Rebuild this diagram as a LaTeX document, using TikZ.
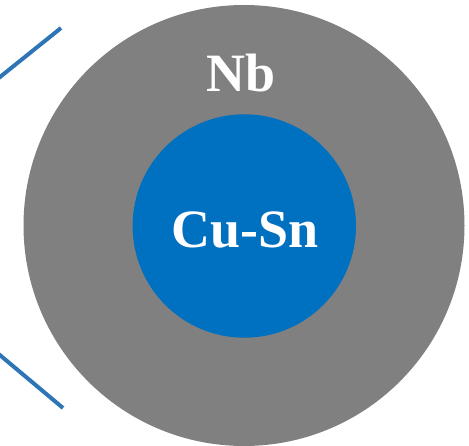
\documentclass[tikz,border=0pt]{standalone}
\usepackage{fontspec}
\setmainfont{Liberation Serif}
\definecolor{nbgray}{HTML}{808080}
\definecolor{cublue}{HTML}{0070C0}
\definecolor{lineblue}{HTML}{2E75B6}
\begin{document}
\begin{tikzpicture}[x=1pt,y=-1pt,
  label text/.style={text=white,font=\fontsize{54}{60}\selectfont\bfseries,inner sep=0pt,anchor=base},
  lead/.style={draw=lineblue,line width=4pt}]
\useasboundingbox (0,0) rectangle (469,446);
\fill[nbgray] (244,225.5) circle[radius=220.5];
\fill[cublue] (244.3,226) circle[radius=111.7];
\node[label text] (nb) at (241,92) {Nb};
\node[label text] (cusn) at (245,248) {Cu-Sn};
\coordinate (a1) at (-2,78.6);
\coordinate (a2) at (61,28);
\coordinate (b1) at (-2,353.5);
\coordinate (b2) at (63,408);
\draw[lead] (a1) -- (a2);
\draw[lead] (b1) -- (b2);
\end{tikzpicture}
\end{document}
